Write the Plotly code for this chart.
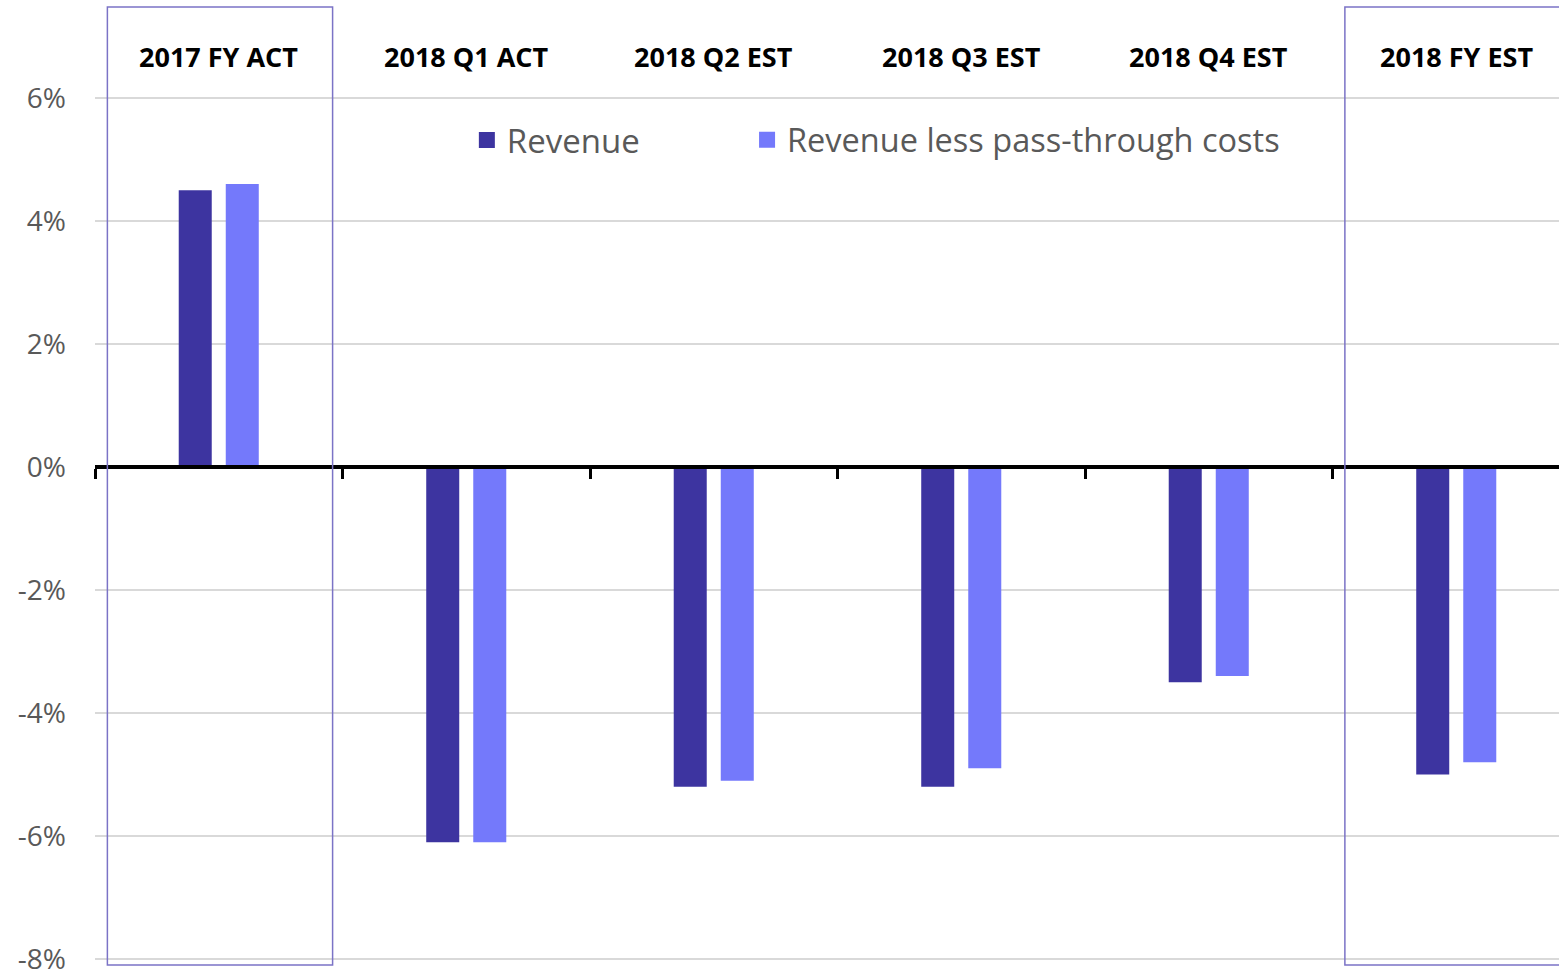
import plotly.graph_objects as go

categories = ["2017 FY ACT", "2018 Q1 ACT", "2018 Q2 EST", "2018 Q3 EST", "2018 Q4 EST", "2018 FY EST"]
revenue = [4.5, -6.1, -5.2, -5.2, -3.5, -5.0]
revenue_less = [4.6, -6.1, -5.1, -4.9, -3.4, -4.8]
y_ticks = [-8, -6, -4, -2, 0, 2, 4, 6]
boxed = [0, 5]

C_REV = "#3d34a0"
C_LESS = "#7479fb"
BOX = "#7b73c6"

y_min, y_max = -8.098, 7.48
n = len(categories)

fig = go.Figure()
fig.add_trace(go.Bar(x=categories, y=revenue, marker=dict(color=C_REV, line_width=0), showlegend=False))
fig.add_trace(go.Bar(x=categories, y=revenue_less, marker=dict(color=C_LESS, line_width=0), showlegend=False))
fig.add_trace(go.Scatter(x=[None], y=[None], mode="markers", name="Revenue", legend="legend",
                         marker=dict(symbol="square", size=20, color=C_REV)))
fig.add_trace(go.Scatter(x=[None], y=[None], mode="markers", name="Revenue less pass-through costs",
                         legend="legend2", marker=dict(symbol="square", size=20, color=C_LESS)))

for i in boxed:
    fig.add_shape(type="rect", xref="x", yref="paper", x0=i - 0.45, x1=i + 0.46, y0=0, y1=1,
                  line=dict(color=BOX, width=1.5), layer="above")

for i, c in enumerate(categories):
    fig.add_annotation(x=c, y=6.68, xref="x", yref="y", text=f"<b>{c}</b>", showarrow=False,
                       font=dict(family="Open Sans", size=27, color="#000000"))

legend_font = dict(size=33, color="#595959", family="Open Sans")
fig.update_layout(
    width=1559, height=969,
    margin=dict(l=95, r=0, t=7, b=4, autoexpand=False),
    paper_bgcolor="white", plot_bgcolor="white",
    barmode="group", bargap=0.62, bargroupgap=0.298,
    font=dict(family="Open Sans", color="#595959"),
    legend=dict(orientation="h", x=0.254, xanchor="left", y=0.861, yanchor="middle",
                font=legend_font, bgcolor="rgba(0,0,0,0)"),
    legend2=dict(orientation="h", x=0.4454, xanchor="left", y=0.861, yanchor="middle",
                 font=dict(size=32.5, color="#595959", family="Open Sans"), bgcolor="rgba(0,0,0,0)"),
    xaxis=dict(range=[-0.5, n - 0.5 - 21 / 247.5], showgrid=False, showticklabels=False,
               anchor="free", position=(0 - y_min) / (y_max - y_min), automargin=False,
               showline=True, linecolor="black", linewidth=4,
               ticks="outside", tickson="boundaries", ticklen=10, tickwidth=3, tickcolor="black"),
    yaxis=dict(range=[y_min, y_max], tickvals=y_ticks, ticktext=[f"{v}%" for v in y_ticks],
               showgrid=True, gridcolor="#d9d9d9", gridwidth=2, zeroline=False, automargin=False,
               tickfont=dict(size=28, color="#595959", family="Open Sans"),
               ticklabelstandoff=28, ticklabeloverflow="allow", showline=False),
)

fig.write_html("out.html", config={"displayModeBar": False},
               post_script="document.body.style.margin='0';document.body.style.padding='0';")
